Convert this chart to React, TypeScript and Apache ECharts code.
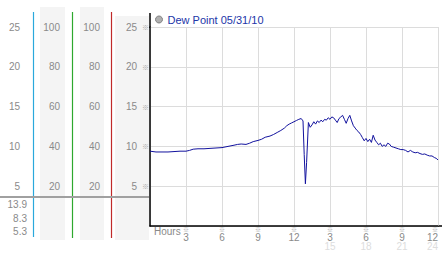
import React, { useEffect, useRef } from 'react';
import * as echarts from 'echarts';

const seriesName = 'Dew Point 05/31/10';

const hours = [
  0, 0.5, 1, 1.5, 2, 2.5, 3, 3.3, 3.6, 4, 4.5, 5, 5.5, 6, 6.5, 7, 7.3, 7.6, 8, 8.3, 8.6, 9, 9.3, 9.6,
  10, 10.3, 10.6, 10.9, 11.2, 11.4, 11.6, 11.8, 12, 12.2, 12.4, 12.6, 12.75, 12.85, 12.95, 13.05,
  13.2, 13.35, 13.5, 13.65, 13.8, 13.95, 14.1, 14.25, 14.4, 14.55, 14.7, 14.85, 15, 15.15, 15.3,
  15.45, 15.6, 15.75, 15.9, 16.05, 16.2, 16.35, 16.5, 16.65, 16.8, 16.95, 17.1, 17.25, 17.4, 17.55,
  17.7, 17.85, 18, 18.15, 18.3, 18.45, 18.6, 18.75, 18.9, 19.05, 19.2, 19.35, 19.5, 19.65, 19.8,
  19.95, 20.1, 20.3, 20.5, 20.7, 20.9, 21.1, 21.3, 21.5, 21.7, 21.9, 22.1, 22.3, 22.5, 22.7, 22.9,
  23.1, 23.3, 23.5, 23.7, 23.85, 24,
];

const dewPoint = [
  9.4, 9.3, 9.3, 9.3, 9.35, 9.4, 9.4, 9.5, 9.65, 9.7, 9.7, 9.75, 9.8, 9.85, 10.0, 10.15, 10.25, 10.3,
  10.25, 10.4, 10.6, 10.75, 10.9, 11.15, 11.3, 11.5, 11.75, 12.0, 12.3, 12.6, 12.8, 12.95, 13.1,
  13.25, 13.4, 13.5, 13.2, 9.0, 5.3, 8.0, 13.0, 12.4, 12.7, 13.1, 12.8, 13.2, 13.0, 13.3, 13.1,
  13.4, 13.3, 13.6, 13.4, 13.7, 13.6, 13.3, 13.0, 13.5, 13.7, 13.9, 13.4, 12.9, 13.5, 13.9, 13.2,
  12.6, 12.3, 12.0, 11.8, 11.5, 11.1, 10.7, 11.0, 10.6, 10.9, 10.5, 11.4, 10.8, 10.5, 10.2, 10.4,
  10.0, 10.2, 10.0, 10.4, 10.3, 10.0, 9.9, 9.8, 9.7, 9.6, 9.6, 9.5, 9.3, 9.5, 9.3, 9.2, 9.25, 9.1,
  9.0, 9.05, 8.9, 8.8, 8.8, 8.6, 8.5, 8.3,
];

const FONT = '"Liberation Sans", Arial, sans-serif';
const MARK_FONT = '"Noto Sans CJK JP", "DejaVu Sans", sans-serif';
const GRAY = '#8a8a8a';
const GRID = '#dcdcdc';
const Y_MAX = 25;

export default function App() {
  const ref = useRef<HTMLDivElement>(null);

  useEffect(() => {
    const chart = echarts.init(ref.current!, null, { renderer: 'svg' });
    const data = hours.map((h, i) => [h, dewPoint[i]]);
    const maxV = Math.max(...dewPoint);
    const minV = Math.min(...dewPoint);
    const lastV = dewPoint[dewPoint.length - 1];
    const stats = [maxV, lastV, minV];
    const statY = [204, 218, 231.5];

    const sideAxis = (offset: number, mult: number) => ({
      type: 'value',
      min: 0,
      max: Y_MAX,
      interval: 5,
      position: 'left',
      offset,
      axisLine: { show: false },
      axisTick: { show: false },
      splitLine: { show: false },
      axisLabel: {
        margin: 0,
        color: GRAY,
        fontSize: 10,
        fontFamily: FONT,
        formatter: (v: number) => (v > 0 ? String(v * mult) : ''),
      },
    });

    const option: any = {
      animation: false,
      backgroundColor: '#fff',
      textStyle: { fontFamily: FONT },
      grid: { left: 150, right: 4, top: 27, bottom: 27, containLabel: false, outerBoundsMode: 'none' },
      legend: {
        left: 155,
        top: 14,
        padding: 0,
        icon: 'circle',
        itemWidth: 7,
        itemHeight: 7,
        itemGap: 4,
        textStyle: { color: '#2235a8', fontSize: 11, fontFamily: FONT },
        data: [{ name: seriesName, itemStyle: { color: '#b0b0b0', borderColor: '#808080', borderWidth: 1 } }],
      },
      xAxis: {
        type: 'value',
        min: 0,
        max: 24,
        interval: 3,
        axisLine: { show: true, onZero: false, lineStyle: { color: '#000', width: 1.5 } },
        axisTick: { show: false },
        splitLine: { show: true, lineStyle: { color: GRID, width: 1 } },
        axisLabel: {
          margin: 0,
          alignMaxLabel: 'right',
          formatter: (v: number) => {
            if (v === 0) return '';
            const h = v % 12 === 0 ? 12 : v % 12;
            if (v > 12) return `{m|※}\n{v|${h}}\n{f|${v}}`;
            return `{m|※}\n{v|${h}}`;
          },
          rich: {
            m: { fontSize: 6, lineHeight: 6, color: '#a8a8a8', fontFamily: MARK_FONT },
            v: { fontSize: 10, lineHeight: 10, color: GRAY, fontFamily: FONT },
            f: { fontSize: 10, lineHeight: 9, color: '#dddddd', fontFamily: FONT },
          },
        },
      },
      yAxis: [
        {
          type: 'value',
          min: 0,
          max: Y_MAX,
          interval: 5,
          position: 'left',
          axisLine: { show: true, onZero: false, lineStyle: { color: '#000', width: 1.5 } },
          axisTick: { show: false },
          splitLine: { show: true, lineStyle: { color: GRID, width: 1 } },
          axisLabel: {
            margin: 1,
            fontSize: 7,
            color: '#a8a8a8',
            fontFamily: MARK_FONT,
            formatter: (v: number) => (v > 0 ? '※' : ''),
          },
        },
        sideAxis(13, 1),
        sideAxis(50, 4),
        sideAxis(90, 4),
        sideAxis(130, 1),
      ],
      graphic: [
        { type: 'rect', z: -1, shape: { x: 40, y: 7, width: 25, height: 233 }, style: { fill: '#f4f4f4' } },
        { type: 'rect', z: -1, shape: { x: 80, y: 7, width: 24, height: 233 }, style: { fill: '#f4f4f4' } },
        { type: 'rect', z: -1, shape: { x: 115, y: 16, width: 34, height: 224 }, style: { fill: '#f4f4f4' } },
        { type: 'line', shape: { x1: 33.5, y1: 12, x2: 33.5, y2: 237 }, style: { stroke: '#2aa8dc', lineWidth: 1.2 } },
        { type: 'line', shape: { x1: 72.5, y1: 12, x2: 72.5, y2: 238 }, style: { stroke: '#2ea82e', lineWidth: 1.2 } },
        { type: 'line', shape: { x1: 111.5, y1: 12, x2: 111.5, y2: 238 }, style: { stroke: '#c02a2a', lineWidth: 1.2 } },
        { type: 'line', shape: { x1: 0, y1: 197, x2: 149, y2: 197 }, style: { stroke: '#a0a0a0', lineWidth: 2 } },
        { type: 'line', shape: { x1: 150, y1: 13, x2: 150, y2: 28 }, style: { stroke: '#000', lineWidth: 1.5 } },
        { type: 'line', shape: { x1: 438, y1: 226, x2: 442, y2: 226 }, style: { stroke: '#000', lineWidth: 1.5 } },
        {
          type: 'text',
          style: { text: 'Hours', x: 154, y: 231.5, fill: GRAY, font: `10px ${FONT}`, verticalAlign: 'middle' },
        },
        ...stats.map((s, i) => ({
          type: 'text',
          style: {
            text: s.toFixed(1),
            x: 27,
            y: statY[i],
            fill: GRAY,
            font: `10px ${FONT}`,
            align: 'right',
            verticalAlign: 'middle',
          },
        })),
      ],
      series: [
        {
          name: seriesName,
          type: 'line',
          data,
          xAxisIndex: 0,
          yAxisIndex: 0,
          showSymbol: false,
          symbol: 'none',
          color: '#12129e',
          lineStyle: { color: '#12129e', width: 1 },
        },
      ],
    };

    chart.setOption(option);
    return () => chart.dispose();
  }, []);

  return (
    <div
      ref={ref}
      style={{ position: 'absolute', left: 0, top: 0, width: 442, height: 253, background: '#fff' }}
    />
  );
}
